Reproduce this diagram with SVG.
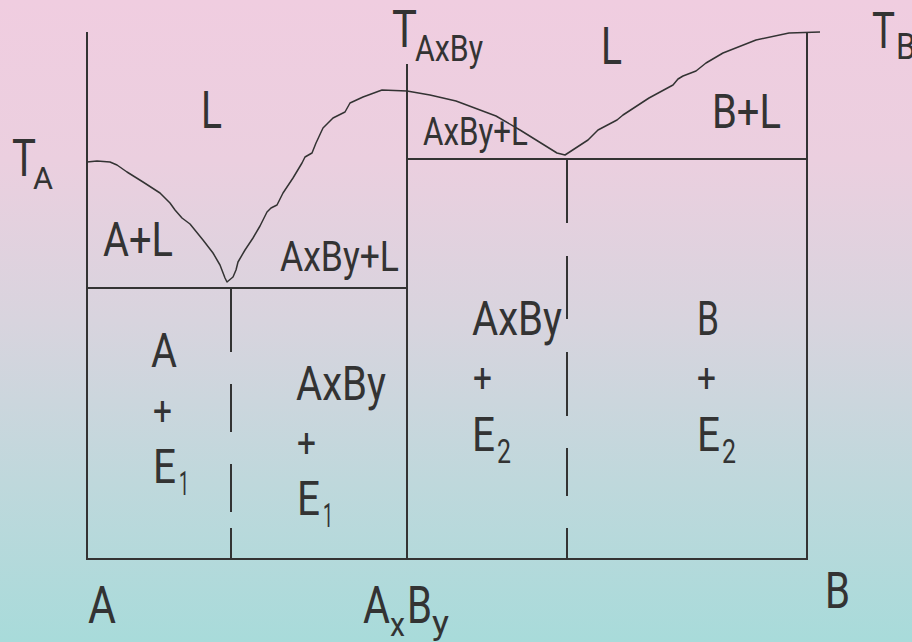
<svg xmlns="http://www.w3.org/2000/svg" width="912" height="642" viewBox="0 0 912 642">
<defs>
<linearGradient id="bg" x1="0" y1="0" x2="0" y2="1">
<stop offset="0" stop-color="#f0cde0"/>
<stop offset="0.25" stop-color="#ebcfdf"/>
<stop offset="0.5" stop-color="#d8d4de"/>
<stop offset="0.75" stop-color="#bfd8dc"/>
<stop offset="1" stop-color="#a8dbda"/>
</linearGradient>
<style>
.ln{stroke:#333;stroke-width:2;fill:none}
.cv{stroke:#333;stroke-width:1.5;fill:none;stroke-linejoin:round}
.t{font-family:Roboto,"Liberation Sans",sans-serif;fill:#333}
.big{font-size:52px}
.md{font-size:48px}
.sm{font-size:42px}
.sub{font-size:34px}
</style>
</defs>
<rect x="0" y="0" width="912" height="642" fill="url(#bg)"/>
<g id="connectors">
<path class="ln" d="M87 32V559H807V32"/>
<path class="ln" d="M407 64V559"/>
<path class="ln" d="M87 288H407"/>
<path class="ln" d="M407 159H807"/>
<path class="ln" d="M231 288V352M231 384V432M231 464V512M231 528V559"/>
<path class="ln" d="M567 159V223M567 256V319M567 352V416M567 448V496M567 528V559"/>
<path class="cv" d="M87 162L97 161L110 162L117 165L127 172L143 182L160 193L170 203L175 210L182 218L190 224L203 240L213 253L220 265L225 278L227 282L233 277L236 270L238 262L245 250L253 238L260 226L267 212L271 208L277 205L283 193L293 178L302 163L305 157L312 153L316 143L323 128L333 118L345 112L350 103L363 97L382 90L407 91L430 95L456 101L496 116L520 130L557 153L565 155L588 140L598 130L617 120L623 115L649 98L673 85L678 79L683 76L696 71L706 63L723 53L756 40L789 33L820 32"/>
</g>
<g id="labels-top">
<text class="t big" x="12" y="176" textLength="24" lengthAdjust="spacingAndGlyphs">T</text>
<text class="t" style="font-size:32px" x="33" y="189" textLength="20" lengthAdjust="spacingAndGlyphs">A</text>
<text class="t big" x="201" y="128" textLength="21" lengthAdjust="spacingAndGlyphs">L</text>
<text class="t big" x="392" y="47" textLength="25" lengthAdjust="spacingAndGlyphs">T</text>
<text class="t" style="font-size:36px" x="415" y="61" textLength="68" lengthAdjust="spacingAndGlyphs">AxBy</text>
<text class="t big" x="601" y="64" textLength="21" lengthAdjust="spacingAndGlyphs">L</text>
<text class="t" style="font-size:50px" x="872" y="48" textLength="23" lengthAdjust="spacingAndGlyphs">T</text>
<text class="t" style="font-size:36px" x="896" y="59" textLength="20" lengthAdjust="spacingAndGlyphs">B</text>
</g>
<g id="region-AL"><text class="t md" x="103" y="256" textLength="70" lengthAdjust="spacingAndGlyphs">A+L</text></g>
<g id="region-AxByL-left"><text class="t sm" x="280" y="271" textLength="119" lengthAdjust="spacingAndGlyphs">AxBy+L</text></g>
<g id="region-AxByL-right"><text class="t" style="font-size:38px" x="423" y="145" textLength="105" lengthAdjust="spacingAndGlyphs">AxBy+L</text></g>
<g id="region-BL"><text class="t md" x="712" y="128" textLength="69" lengthAdjust="spacingAndGlyphs">B+L</text></g>
<g id="region-AE1">
<text class="t md" x="151" y="367" textLength="26" lengthAdjust="spacingAndGlyphs">A</text>
<text class="t" style="font-size:40px" x="153" y="425" textLength="19" lengthAdjust="spacingAndGlyphs">+</text>
<text class="t md" x="153" y="483" textLength="23" lengthAdjust="spacingAndGlyphs">E</text>
<text class="t sub" x="179" y="495" textLength="10" lengthAdjust="spacingAndGlyphs">1</text>
</g>
<g id="region-AxByE1">
<text class="t md" x="296" y="400" textLength="90" lengthAdjust="spacingAndGlyphs">AxBy</text>
<text class="t" style="font-size:40px" x="297" y="457" textLength="19" lengthAdjust="spacingAndGlyphs">+</text>
<text class="t md" x="297" y="515" textLength="23" lengthAdjust="spacingAndGlyphs">E</text>
<text class="t sub" x="323" y="527" textLength="10" lengthAdjust="spacingAndGlyphs">1</text>
</g>
<g id="region-AxByE2">
<text class="t md" x="472" y="335" textLength="90" lengthAdjust="spacingAndGlyphs">AxBy</text>
<text class="t" style="font-size:40px" x="473" y="392" textLength="19" lengthAdjust="spacingAndGlyphs">+</text>
<text class="t md" x="472" y="451" textLength="23" lengthAdjust="spacingAndGlyphs">E</text>
<text class="t sub" x="497" y="463" textLength="14" lengthAdjust="spacingAndGlyphs">2</text>
</g>
<g id="region-BE2">
<text class="t md" x="697" y="335" textLength="22" lengthAdjust="spacingAndGlyphs">B</text>
<text class="t" style="font-size:40px" x="697" y="392" textLength="19" lengthAdjust="spacingAndGlyphs">+</text>
<text class="t md" x="697" y="451" textLength="23" lengthAdjust="spacingAndGlyphs">E</text>
<text class="t sub" x="722" y="463" textLength="14" lengthAdjust="spacingAndGlyphs">2</text>
</g>
<g id="axis-labels">
<text class="t big" x="88" y="623" textLength="28" lengthAdjust="spacingAndGlyphs">A</text>
<text class="t big" x="363" y="623" textLength="27" lengthAdjust="spacingAndGlyphs">A</text>
<text class="t sub" x="390" y="636" textLength="15" lengthAdjust="spacingAndGlyphs">x</text>
<text class="t big" x="407" y="623" textLength="25" lengthAdjust="spacingAndGlyphs">B</text>
<text class="t sub" x="432" y="634" textLength="17" lengthAdjust="spacingAndGlyphs">y</text>
<text class="t" style="font-size:50px" x="825" y="608" textLength="25" lengthAdjust="spacingAndGlyphs">B</text>
</g>
</svg>
